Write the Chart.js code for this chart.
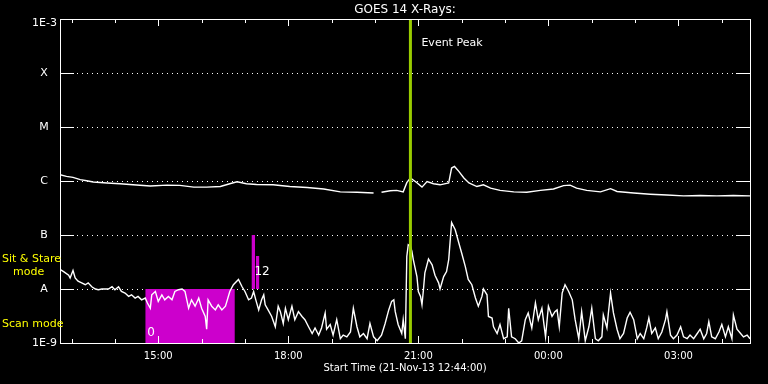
<!DOCTYPE html>
<html>
<head>
<meta charset="utf-8">
<script src="https://cdn.jsdelivr.net/npm/chart.js@4.4.1/dist/chart.umd.min.js"></script>
<style>
  html, body { margin: 0; padding: 0; background: #000; }
</style>
</head>
<body>
<canvas id="goesChart" width="768" height="384"></canvas>
<script>
// time is in minutes after the start time 21-Nov-13 12:44:00
const START_MIN = 12 * 60 + 44;
const END_MIN = 955;

// long channel (upper curve), W/m^2
const longTimes = [0, 9, 18, 28, 37, 46, 65, 83, 101, 125,
  148, 166, 185, 203, 222, 235, 245, 258, 272, 295,
  318, 342, 365, 388, 411, 434, 440, 445, 457, 466,
  475, 480, 485, 494, 501, 508, 517, 526, 538, 542,
  546, 552, 559, 566, 577, 586, 596, 609, 628, 646,
  665, 683, 697, 706, 715, 729, 748, 762, 771, 794,
  817, 840, 863, 886, 909, 932, 955];
const longFlux = [1.31e-6, 1.22e-6, 1.17e-6, 1.06e-6, 1.01e-6, 9.6e-7, 9.2e-7, 8.9e-7, 8.5e-7, 8.1e-7,
  8.4e-7, 8.3e-7, 7.7e-7, 7.7e-7, 7.9e-7, 8.9e-7, 9.7e-7, 8.9e-7, 8.6e-7, 8.5e-7,
  7.9e-7, 7.6e-7, 7.1e-7, 6.3e-7, 6.2e-7, 6.0e-7, null, 6.2e-7, 6.6e-7, 6.7e-7,
  6.3e-7, 9.3e-7, 1.14e-6, 9.3e-7, 7.7e-7, 9.8e-7, 8.9e-7, 8.5e-7, 9.2e-7, 1.74e-6,
  1.86e-6, 1.51e-6, 1.14e-6, 9.2e-7, 7.9e-7, 8.5e-7, 7.4e-7, 6.7e-7, 6.3e-7, 6.2e-7,
  6.7e-7, 7.1e-7, 8.2e-7, 8.4e-7, 7.4e-7, 6.7e-7, 6.3e-7, 7.2e-7, 6.4e-7, 6.0e-7,
  5.7e-7, 5.5e-7, 5.3e-7, 5.4e-7, 5.3e-7, 5.4e-7, 5.3e-7];

// short channel (lower curve), W/m^2
const shortTimes = [0, 5, 12, 14, 18, 21, 25, 30, 35, 39,
  44, 49, 53, 58, 62, 67, 72, 76, 81, 85,
  90, 95, 99, 104, 108, 113, 118, 121, 125, 127,
  132, 136, 141, 145, 150, 155, 159, 164, 169, 173,
  178, 182, 187, 192, 196, 201, 203, 205, 210, 215,
  219, 224, 229, 231, 235, 240, 247, 252, 256, 261,
  265, 268, 271, 275, 279, 282, 284, 288, 293, 298,
  302, 305, 309, 312, 316, 321, 325, 330, 335, 339,
  344, 349, 353, 358, 362, 367, 369, 374, 378, 383,
  388, 392, 397, 402, 406, 411, 415, 420, 425, 429,
  434, 439, 445, 450, 455, 459, 462, 464, 468, 473,
  475, 478, 480, 482, 485, 487, 489, 494, 496, 499,
  501, 503, 505, 510, 515, 519, 524, 526, 531, 535,
  538, 542, 547, 552, 556, 561, 565, 570, 575, 579,
  584, 586, 591, 593, 598, 600, 605, 609, 614, 619,
  621, 625, 630, 635, 639, 644, 648, 653, 658, 662,
  667, 672, 676, 681, 685, 688, 691, 695, 699, 704,
  709, 713, 718, 722, 727, 732, 736, 741, 745, 750,
  752, 757, 759, 762, 766, 771, 775, 780, 785, 789,
  794, 799, 803, 808, 812, 815, 819, 824, 828, 833,
  838, 840, 845, 849, 854, 859, 863, 868, 872, 877,
  882, 886, 891, 895, 898, 902, 907, 912, 916, 921,
  925, 930, 932, 937, 942, 946, 951, 955];
const shortFlux = [2.3e-8, 2.1e-8, 1.8e-8, 1.6e-8, 2.2e-8, 1.6e-8, 1.4e-8, 1.3e-8, 1.2e-8, 1.3e-8,
  1.1e-8, 1.0e-8, 9.7e-9, 1.0e-8, 1.0e-8, 1.0e-8, 1.1e-8, 9.7e-9, 1.1e-8, 9.0e-9,
  8.4e-9, 7.3e-9, 7.8e-9, 6.8e-9, 7.3e-9, 6.3e-9, 6.8e-9, 5.5e-9, 4.4e-9, 7.8e-9,
  9.0e-9, 5.9e-9, 7.8e-9, 6.3e-9, 7.3e-9, 6.3e-9, 9.0e-9, 9.7e-9, 1.0e-8, 9.0e-9,
  4.4e-9, 6.3e-9, 4.8e-9, 6.8e-9, 4.4e-9, 3.1e-9, 1.8e-9, 6.3e-9, 4.8e-9, 4.1e-9,
  5.1e-9, 4.1e-9, 4.8e-9, 5.9e-9, 9.0e-9, 1.2e-8, 1.5e-8, 1.1e-8, 9.0e-9, 6.3e-9,
  6.8e-9, 9.0e-9, 6.3e-9, 4.1e-9, 6.3e-9, 7.8e-9, 5.1e-9, 4.1e-9, 3.1e-9, 2.0e-9,
  4.8e-9, 3.8e-9, 2.3e-9, 4.4e-9, 2.7e-9, 4.8e-9, 2.7e-9, 3.8e-9, 3.1e-9, 2.7e-9,
  2.0e-9, 1.5e-9, 1.9e-9, 1.4e-9, 1.9e-9, 3.6e-9, 1.8e-9, 2.2e-9, 1.4e-9, 2.7e-9,
  1.2e-9, 1.4e-9, 1.3e-9, 1.6e-9, 4.4e-9, 2.0e-9, 1.3e-9, 1.5e-9, 1.2e-9, 2.3e-9,
  1.3e-9, 1.1e-9, 1.4e-9, 2.3e-9, 4.1e-9, 5.9e-9, 6.3e-9, 3.8e-9, 2.2e-9, 1.5e-9,
  2.7e-9, 1.2e-9, 4.0e-8, 6.6e-8, 6.2e-8, 5.0e-8, 3.5e-8, 1.7e-8, 9.0e-9, 7.3e-9,
  5.1e-9, 9.7e-9, 2.0e-8, 3.6e-8, 2.8e-8, 1.8e-8, 1.3e-8, 1.0e-8, 1.7e-8, 2.1e-8,
  3.5e-8, 1.7e-7, 1.25e-7, 7.1e-8, 4.6e-8, 2.6e-8, 1.5e-8, 1.2e-8, 6.8e-9, 4.8e-9,
  7.3e-9, 1.0e-8, 7.8e-9, 3.1e-9, 2.9e-9, 2.0e-9, 1.5e-9, 2.2e-9, 1.2e-9, 1.3e-9,
  4.4e-9, 1.3e-9, 1.2e-9, 1.0e-9, 1.1e-9, 2.7e-9, 3.6e-9, 1.9e-9, 5.5e-9, 2.7e-9,
  4.4e-9, 1.3e-9, 4.8e-9, 3.1e-9, 3.8e-9, 4.1e-9, 2.0e-9, 8.4e-9, 1.2e-8, 9.0e-9,
  6.3e-9, 2.7e-9, 1.2e-9, 3.8e-9, 1.1e-9, 2.0e-9, 4.4e-9, 1.2e-9, 1.1e-9, 1.3e-9,
  3.3e-9, 1.9e-9, 3.6e-9, 8.4e-9, 3.6e-9, 1.8e-9, 1.2e-9, 1.5e-9, 2.9e-9, 3.7e-9,
  2.7e-9, 1.2e-9, 1.5e-9, 1.2e-9, 1.9e-9, 2.9e-9, 1.5e-9, 1.9e-9, 1.2e-9, 1.6e-9,
  2.7e-9, 3.8e-9, 1.4e-9, 1.2e-9, 1.4e-9, 2.0e-9, 1.3e-9, 1.2e-9, 1.4e-9, 1.2e-9,
  1.5e-9, 1.8e-9, 1.2e-9, 1.5e-9, 2.5e-9, 1.3e-9, 1.2e-9, 1.6e-9, 2.2e-9, 1.3e-9,
  2.0e-9, 1.2e-9, 3.3e-9, 1.8e-9, 1.5e-9, 1.3e-9, 1.4e-9, 1.2e-9];

// flare classes on the y axis
const levelValues = [1e-9, 1e-8, 1e-7, 1e-6, 1e-5, 1e-4, 1e-3];
const levelLabels = ['1E-9', 'A', 'B', 'C', 'M', 'X', '1E-3'];

// hour ticks (24+ = next day), labelled every 3 hours
const hourTicks = [13, 14, 15, 16, 17, 18, 19, 20, 21, 22, 23, 24, 25, 26, 27, 28];
const labelHours = [15, 18, 21, 24, 27];

const eventPeakTime = 485;

// instrument mode blocks: [start, end] and top value
const scanBlock = [118, 242];
const scanTop = 1e-8;
const stareBlock1 = [265, 270];
const stareTop1 = 1e-7;
const stareBlock2 = [271, 276];
const stareTop2 = 4.1e-8;

const pts = (xs, ys) => xs.map((x, i) => ({ x: x, y: ys[i] }));

const hourLabel = h => String(h % 24).padStart(2, '0') + ':00';

const goesFrame = {
  id: 'goesFrame',
  beforeDatasetsDraw(chart) {
    const { ctx, chartArea: a, scales: { y } } = chart;
    ctx.save();
    ctx.strokeStyle = '#fff';
    ctx.lineWidth = 1;
    levelValues.slice(1, -1).forEach(v => {
      const py = Math.round(y.getPixelForValue(v)) + 0.5;
      ctx.setLineDash([1, 4]);
      ctx.beginPath();
      ctx.moveTo(a.left + 17, py);
      ctx.lineTo(a.right - 15, py);
      ctx.stroke();
      ctx.setLineDash([]);
      ctx.beginPath();
      ctx.moveTo(a.left, py);
      ctx.lineTo(a.left + 14, py);
      ctx.moveTo(a.right - 14, py);
      ctx.lineTo(a.right, py);
      ctx.stroke();
    });
    ctx.restore();
  },
  afterDatasetsDraw(chart) {
    const { ctx, chartArea: a, scales: { x, y } } = chart;
    ctx.save();
    ctx.strokeStyle = '#fff';
    ctx.lineWidth = 1;
    ctx.strokeRect(a.left + 0.5, a.top + 0.5, a.right - a.left, a.bottom - a.top);

    // hour ticks top and bottom
    ctx.beginPath();
    hourTicks.forEach(h => {
      const px = Math.round(x.getPixelForValue(h * 60 - START_MIN)) + 0.5;
      const len = labelHours.includes(h) ? 7 : 4;
      ctx.moveTo(px, a.bottom);
      ctx.lineTo(px, a.bottom - len);
      ctx.moveTo(px, a.top);
      ctx.lineTo(px, a.top + len);
    });
    ctx.stroke();

    ctx.fillStyle = '#fff';
    ctx.textBaseline = 'middle';
    ctx.font = '10px "DejaVu Sans"';
    ctx.textAlign = 'center';
    labelHours.forEach(h => {
      ctx.fillText(hourLabel(h), x.getPixelForValue(h * 60 - START_MIN), 356);
    });

    ctx.font = '11px "DejaVu Sans"';
    levelValues.forEach((v, i) => {
      const lab = levelLabels[i];
      let py = y.getPixelForValue(v);
      if (i === levelValues.length - 1) py += 4;
      if (lab.length > 1) {
        ctx.textAlign = 'right';
        ctx.fillText(lab, a.left - 3, py);
      } else {
        ctx.textAlign = 'center';
        ctx.fillText(lab, a.left - 16, py);
      }
    });

    const midX = (a.left + a.right) / 2;
    ctx.textAlign = 'center';
    ctx.font = '12px "DejaVu Sans"';
    ctx.fillText('GOES 14 X-Rays:', midX, 10);
    ctx.font = '10px "DejaVu Sans"';
    ctx.fillText('Start Time (21-Nov-13 12:44:00)', midX, 368);

    ctx.textAlign = 'left';
    ctx.font = '11px "DejaVu Sans"';
    ctx.fillText('Event Peak', x.getPixelForValue(eventPeakTime) + 11, 43);

    ctx.font = '12px "DejaVu Sans"';
    ctx.fillText('0', x.getPixelForValue(scanBlock[0]) + 2, 333);
    ctx.fillText('12', x.getPixelForValue(stareBlock1[0]) + 3, 272);

    ctx.fillStyle = '#ffff00';
    ctx.font = '11px "DejaVu Sans"';
    ctx.fillText('Sit & Stare', 2, 259);
    ctx.fillText('mode', 13, 272);
    ctx.fillText('Scan mode', 2, 324);
    ctx.restore();
  }
};

const lineStyle = { borderColor: '#ffffff', borderWidth: 1.4, pointRadius: 0, tension: 0, fill: false, spanGaps: false };
const blockStyle = { borderWidth: 0, pointRadius: 0, backgroundColor: '#cc00cc', tension: 0 };

new Chart(document.getElementById('goesChart'), {
  type: 'line',
  data: {
    datasets: [
      {
        label: 'Event Peak',
        data: [{ x: eventPeakTime, y: levelValues[0] }, { x: eventPeakTime, y: levelValues[levelValues.length - 1] }],
        borderColor: '#99cc00', borderWidth: 3, pointRadius: 0, fill: false
      },
      Object.assign({ label: 'Short', data: pts(shortTimes, shortFlux) }, lineStyle),
      Object.assign({ label: 'Long', data: pts(longTimes, longFlux) }, lineStyle),
      Object.assign({ label: 'Scan mode', data: pts(scanBlock, [scanTop, scanTop]), fill: { value: 1e-9 } }, blockStyle),
      Object.assign({ label: 'Stare 1', data: pts(stareBlock1, [stareTop1, stareTop1]), fill: { value: 1e-8 } }, blockStyle),
      Object.assign({ label: 'Stare 2', data: pts(stareBlock2, [stareTop2, stareTop2]), fill: { value: 1e-8 } }, blockStyle)
    ]
  },
  options: {
    responsive: false,
    animation: false,
    events: [],
    layout: { padding: { left: 60, top: 19, right: 18, bottom: 41 } },
    scales: {
      x: { type: 'linear', min: 0, max: END_MIN, display: false },
      y: { type: 'logarithmic', min: 1e-9, max: 1e-3, display: false }
    },
    plugins: {
      legend: { display: false },
      tooltip: { enabled: false }
    }
  },
  plugins: [goesFrame]
});
</script>
</body>
</html>
